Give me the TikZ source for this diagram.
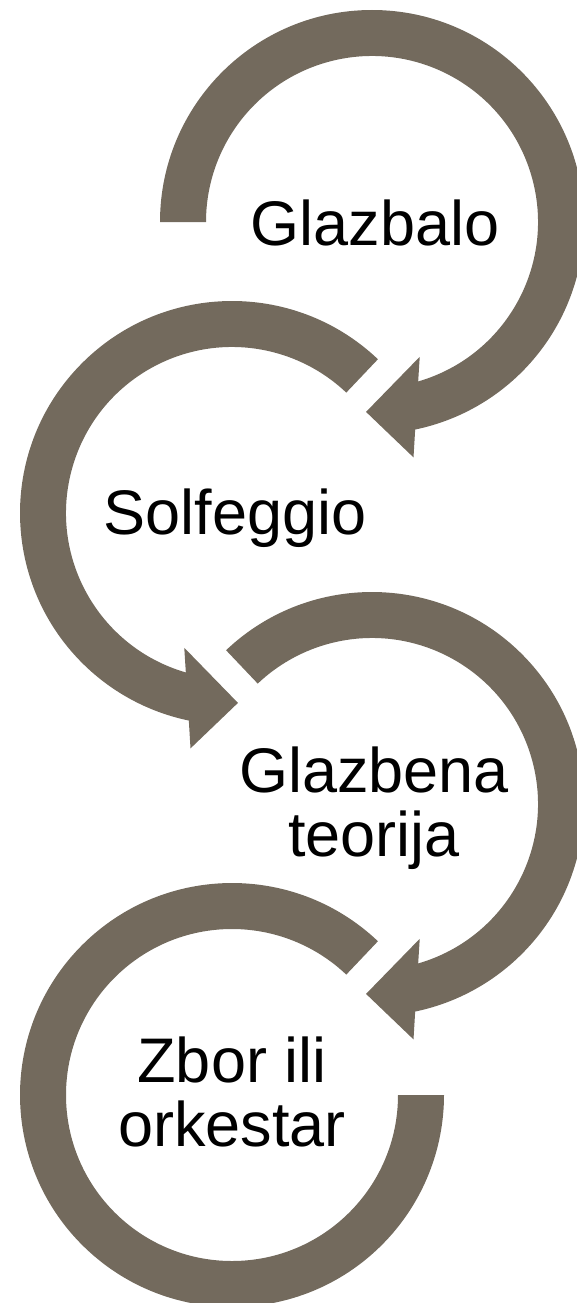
\documentclass[tikz,border=0pt]{standalone}
\usepackage{fontspec}
\setmainfont{Liberation Sans}
\usepackage{tikz}
\definecolor{ringbrown}{RGB}{115,106,93}

\begin{document}
\begin{tikzpicture}[x=1pt, y=1pt,
		ring/.style={fill=ringbrown, draw=none},
		word/.style={font=\fontsize{63}{64}\selectfont, align=center, inner sep=0pt}]
		\useasboundingbox (0,0) rectangle (577,-1303);
		\clip (0,0) rectangle (577,-1303);
		\begin{scope}[shift={(372,-222)}]
			\fill[ring] (180:212) arc[start angle=180, end angle=-78.25, radius=212]
				-- (-80:239) -- (-91.8:190) -- (-70.5:143) -- (-73.85:166)
				arc[start angle=-73.85, end angle=180, radius=166] -- cycle;
			\node[word] (T1) at (3,-1) {Glazbalo};
		\end{scope}
		\begin{scope}[shift={(232,-513)}]
			\fill[ring] (46.5:212) arc[start angle=46.5, end angle=258.25, radius=212]
				-- (260:239) -- (271.8:190) -- (250.5:143) -- (253.85:166)
				arc[start angle=253.85, end angle=46.5, radius=166] -- cycle;
			\node[word] (T2) at (3,-5) {Solfeggio};
		\end{scope}
		\begin{scope}[shift={(372,-804)}]
			\fill[ring] (133.5:212) arc[start angle=133.5, end angle=-78.25, radius=212]
				-- (-80:239) -- (-91.8:190) -- (-70.5:143) -- (-73.85:166)
				arc[start angle=-73.85, end angle=133.5, radius=166] -- cycle;
			\node[word] (T3) at (2,-4) {Glazbena\\teorija};
		\end{scope}
		\begin{scope}[shift={(232,-1095)}]
			\fill[ring] (46.5:212) arc[start angle=46.5, end angle=360, radius=212]
				-- (0:166) arc[start angle=360, end angle=46.5, radius=166] -- cycle;
			\node[word] (T4) at (0,3) {Zbor ili\\orkestar};
		\end{scope}
	\end{tikzpicture}
\end{document}
